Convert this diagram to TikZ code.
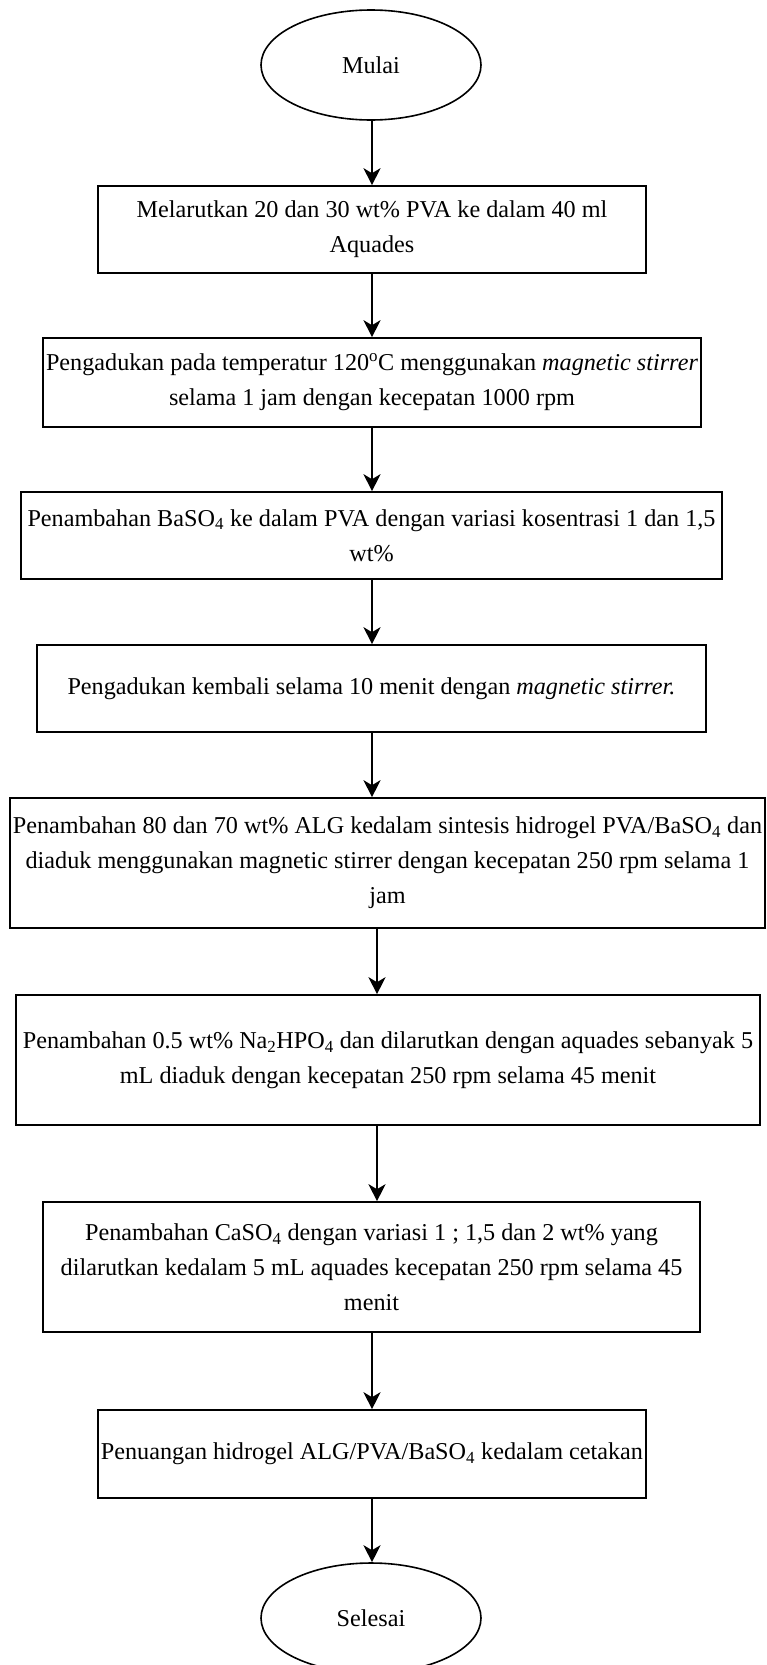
\documentclass[tikz,border=0pt]{standalone}
\usepackage{fontspec}
\setmainfont{Liberation Serif}
\usepackage{tikz}
\usetikzlibrary{arrows.meta}
\usetikzlibrary{shapes.geometric,positioning}

\begin{document}
\begin{tikzpicture}[
x=1pt,y=-1pt,
FlowBox/.style={draw=black,line width=1.6pt,rectangle,align=center,inner sep=0pt,font=\fontsize{24.2}{35}\selectfont},
StartStop/.style={draw=black,line width=1.6pt,ellipse,minimum width=220pt,minimum height=110pt,inner sep=0pt,font=\fontsize{24.2}{35}\selectfont},
FlowArrow/.style={-{Stealth[length=17pt,width=17pt,inset=5pt]},line width=1.8pt}
]
\useasboundingbox (0,0) rectangle (766,1665);

% centres of the steps
\coordinate (Pa) at (371,65);
\coordinate (Pb) at (372,229.5);
\coordinate (Pc) at (372,382.5);
\coordinate (Pd) at (371.5,535.5);
\coordinate (Pe) at (371.5,688.5);
\coordinate (Pf) at (387.5,863);
\coordinate (Pg) at (388,1060);
\coordinate (Ph) at (371.5,1267);
\coordinate (Pi) at (372,1454);
\coordinate (Pj) at (371,1618);

% columns of the arrows
\coordinate (ColA) at (372,0);
\coordinate (ColB) at (377,0);

\node[StartStop] (mulai) at (Pa) {Mulai};

\node[FlowBox,minimum width=548pt,minimum height=87pt] (larut) at (Pb)
{Melarutkan 20 dan 30 wt\% PVA ke dalam 40 ml\\Aquades};

\node[FlowBox,minimum width=658pt,minimum height=89pt] (aduk) at (Pc)
{Pengadukan pada temperatur 120\textsuperscript{o}C menggunakan \textit{magnetic stirrer}\\selama 1 jam dengan kecepatan 1000 rpm};

\node[FlowBox,minimum width=701pt,minimum height=87pt] (baso) at (Pd)
{Penambahan BaSO\textsubscript{4} ke dalam PVA dengan variasi kosentrasi 1 dan 1,5\\wt\%};

\node[FlowBox,minimum width=669pt,minimum height=87pt] (kembali) at (Pe)
{Pengadukan kembali selama 10 menit dengan \textit{magnetic stirrer.}};

\node[FlowBox,minimum width=755pt,minimum height=130pt] (alg) at (Pf)
{Penambahan 80 dan 70 wt\% ALG kedalam sintesis hidrogel PVA/BaSO\textsubscript{4} dan\\diaduk menggunakan magnetic stirrer dengan kecepatan 250 rpm selama 1\\jam};

\node[FlowBox,minimum width=744pt,minimum height=130pt] (nahpo) at (Pg)
{Penambahan 0.5 wt\% Na\textsubscript{2}HPO\textsubscript{4} dan dilarutkan dengan aquades sebanyak 5\\mL diaduk dengan kecepatan 250 rpm selama 45 menit};

\node[FlowBox,minimum width=657pt,minimum height=130pt] (caso) at (Ph)
{Penambahan CaSO\textsubscript{4} dengan variasi 1 ; 1,5 dan 2 wt\% yang\\dilarutkan kedalam 5 mL aquades kecepatan 250 rpm selama 45\\menit};

\node[FlowBox,minimum width=548pt,minimum height=88pt] (tuang) at (Pi)
{Penuangan hidrogel ALG/PVA/BaSO\textsubscript{4} kedalam cetakan};

\node[StartStop] (selesai) at (Pj) {Selesai};

% arrows
\draw[FlowArrow] (mulai.south -| ColA) -- (larut.north -| ColA);
\draw[FlowArrow] (larut.south -| ColA) -- (aduk.north -| ColA);
\draw[FlowArrow] (aduk.south -| ColA) -- (baso.north -| ColA);
\draw[FlowArrow] (baso.south -| ColA) -- (kembali.north -| ColA);
\draw[FlowArrow] (kembali.south -| ColA) -- (alg.north -| ColA);
\draw[FlowArrow] (alg.south -| ColB) -- (nahpo.north -| ColB);
\draw[FlowArrow] (nahpo.south -| ColB) -- (caso.north -| ColB);
\draw[FlowArrow] (caso.south -| ColA) -- (tuang.north -| ColA);
\draw[FlowArrow] (tuang.south -| ColA) -- (selesai.north -| ColA);

\end{tikzpicture}
\end{document}
